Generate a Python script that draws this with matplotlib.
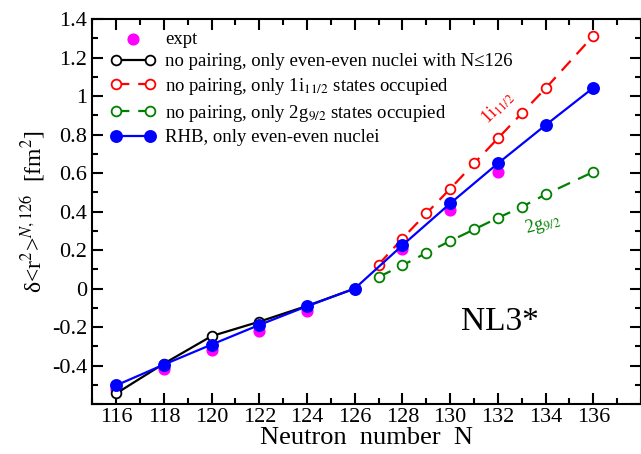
import numpy as np
import matplotlib
matplotlib.use('Agg')
from matplotlib import pyplot as plt
from matplotlib.ticker import MultipleLocator, FuncFormatter

plt.rcParams['font.family'] = ['Liberation Serif', 'DejaVu Serif']
plt.rcParams['mathtext.fontset'] = 'stix'

# experimental values
n_expt = [116, 118, 120, 122, 124, 126, 128, 130, 132]
r_expt = [-0.52, -0.42, -0.32, -0.22, -0.115, 0.0, 0.205, 0.41, 0.607]

# no pairing, even-even nuclei up to N=126
n_np = [116, 118, 120, 122, 124, 126]
r_np = [-0.545, -0.39, -0.247, -0.172, -0.09, 0.0]

# no pairing, 1i11/2 occupied
n_i = [127, 128, 129, 130, 131, 132, 133, 134, 136]
r_i = [0.125, 0.26, 0.39, 0.518, 0.65, 0.78, 0.91, 1.04, 1.313]

# no pairing, 2g9/2 occupied
n_g = [127, 128, 129, 130, 131, 132, 133, 134, 136]
r_g = [0.06, 0.121, 0.185, 0.247, 0.307, 0.367, 0.424, 0.489, 0.606]

# RHB
n_rhb = [116, 118, 120, 122, 124, 126, 128, 130, 132, 134, 136]
r_rhb = [-0.503, -0.395, -0.291, -0.189, -0.092, 0.0, 0.225, 0.442, 0.65, 0.849, 1.043]

fig = plt.figure(figsize=(6.41, 4.54), dpi=100)
ax = fig.add_axes([0.144, 0.110, 0.856, 0.848])

ax.scatter(n_expt, r_expt, s=60, color='magenta', zorder=2, label='expt')
ax.plot(n_np, r_np, '-o', color='black', lw=1.6, ms=7, mfc='white', mew=1.3,
        zorder=3, label=u'no pairing, only even-even nuclei with N\u2264126')
ax.plot(n_i, r_i, '--o', color='red', lw=1.6, ms=7, mfc='white', mew=1.3,
        dashes=(6, 4), zorder=3, label='no pairing, only 1i$_{11/2}$ states occupied')
ax.plot(n_g, r_g, '--o', color='green', lw=1.6, ms=7, mfc='white', mew=1.3,
        dashes=(6, 4), zorder=3, label='no pairing, only 2g$_{9/2}$ states occupied')
ax.plot(n_rhb, r_rhb, '-o', color='blue', lw=1.6, ms=8, mfc='blue', mew=1.3,
        zorder=4, label='RHB, only even-even nuclei')

ax.set_xlim(115, 138)
ax.set_ylim(-0.6, 1.4)
ax.set_xticks(range(116, 137, 2))
ax.set_xticks(range(115, 139), minor=True)
ax.yaxis.set_major_locator(MultipleLocator(0.2))
ax.yaxis.set_minor_locator(MultipleLocator(0.1))
ax.yaxis.set_major_formatter(FuncFormatter(lambda v, p: '' if v < -0.5 else '%g' % round(v, 1)))
ax.tick_params(which='both', direction='in', top=True, right=True, labelsize=16, width=1.5)
ax.tick_params(axis='x', pad=3)
ax.tick_params(which='major', length=8)
ax.tick_params(which='minor', length=4)
for s in ax.spines.values():
    s.set_linewidth(1.5)

ax.set_xlabel('Neutron  number  N', fontsize=19, labelpad=0)
ax.set_ylabel(u'\u03b4<r$^2$>$^{N,126}$  [fm$^2$]', fontsize=17, labelpad=4)

ax.text(132.0, 0.94, '1i$_{11/2}$', color='red', fontsize=13, rotation=45,
        ha='center', va='center')
ax.text(133.9, 0.334, '2g$_{9/2}$', color='green', fontsize=13, rotation=15,
        ha='center', va='center')
ax.text(132.1, -0.175, 'NL3*', fontsize=24, ha='center', va='center')

ax.legend(loc='upper left', frameon=False, fontsize=13.5, numpoints=2, scatterpoints=1,
          handlelength=2.4, labelspacing=0.3, handletextpad=0.5,
          borderaxespad=0.0, bbox_to_anchor=(0.02, 0.99))

fig.savefig('out.png', dpi=100)
